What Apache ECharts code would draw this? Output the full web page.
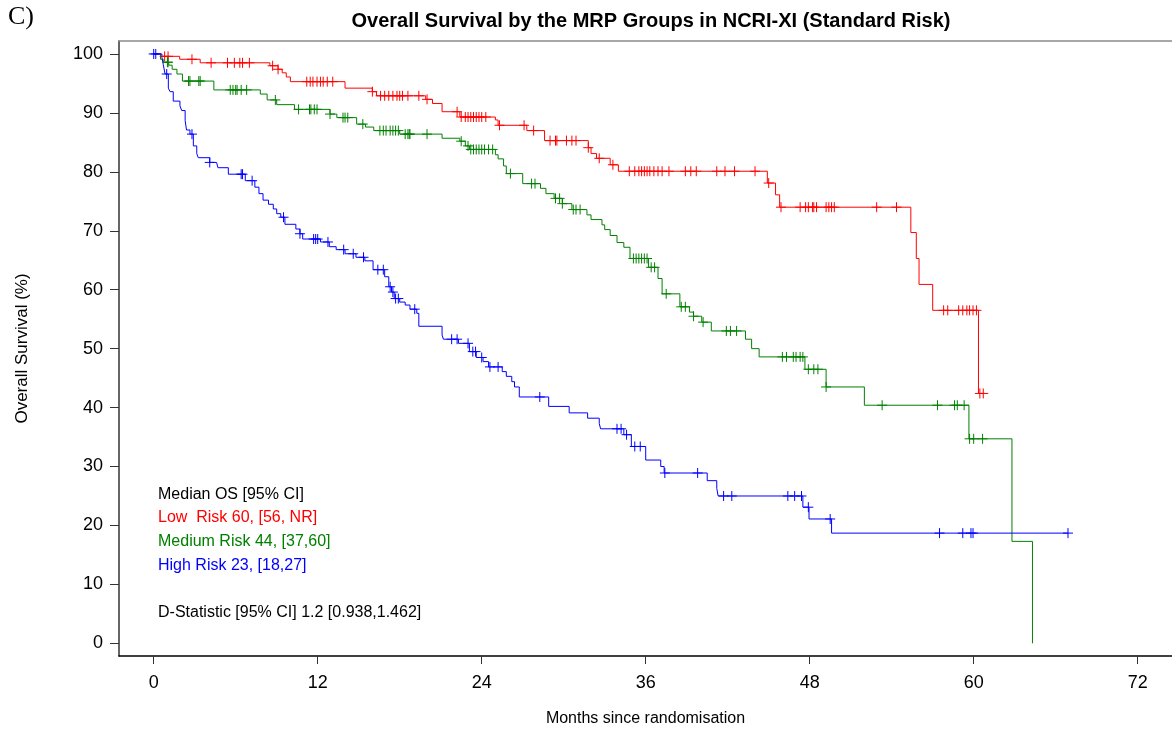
<!DOCTYPE html>
<html>
<head>
<meta charset="utf-8">
<script src="https://cdn.jsdelivr.net/npm/echarts@6/dist/echarts.min.js"></script>
<style>
html,body{margin:0;padding:0;background:#fff;}
#chart{width:1172px;height:729px;}
</style>
</head>
<body>
<div id="chart"></div>
<script>
// ---- Data (months since randomisation, overall survival %) ----
const xTicks = [0, 12, 24, 36, 48, 60, 72];
const yTicks = [0, 10, 20, 30, 40, 50, 60, 70, 80, 90, 100];

// Low risk (red): event times and survival after each event
const lowT = [0.5, 1.9, 3.4, 8.5, 9.1, 9.4, 9.7, 10.0, 14.0, 16.0, 16.3, 19.9, 20.4, 21.1, 22.4, 25.0, 25.2, 27.3, 28.6, 31.8, 32.0, 32.4, 33.4, 34.0, 44.9, 45.5, 45.8, 55.4, 55.8, 56.0, 57.0, 60.35];
const lowS = [99.6, 99.1, 98.5, 98.0, 97.4, 96.8, 96.1, 95.3, 94.2, 93.6, 92.9, 92.3, 91.6, 90.2, 89.3, 88.8, 87.9, 87.0, 85.3, 84.1, 83.1, 82.3, 81.2, 80.1, 78.1, 76.1, 74.0, 69.7, 65.3, 60.9, 56.5, 42.4];
const lowEnd = 60.7;
const lowCens = [0.8, 1.05, 2.8, 4.2, 5.4, 5.9, 6.3, 6.5, 7.0, 8.7, 9.1, 11.2, 11.45, 11.65, 11.95, 12.2, 12.4, 12.7, 13.1, 16.0, 16.6, 16.9, 17.2, 17.5, 17.8, 18.0, 18.2, 18.6, 19.4, 20.0, 22.2, 22.5, 22.8, 23.0, 23.2, 23.4, 23.6, 23.8, 24.0, 24.3, 25.3, 27.1, 27.8, 29.0, 29.4, 29.5, 30.2, 30.6, 30.9, 31.8, 32.6, 33.6, 34.8, 35.2, 35.5, 35.7, 35.9, 36.1, 36.3, 36.6, 36.9, 37.2, 37.7, 38.9, 39.3, 39.7, 41.2, 41.8, 42.5, 44.0, 45.0, 45.9, 47.3, 47.7, 47.9, 48.2, 48.3, 48.5, 49.2, 49.4, 49.6, 49.8, 52.9, 54.35, 57.8, 58.1, 58.9, 59.2, 59.5, 59.7, 59.95, 60.2, 60.45, 60.7];

// Medium risk (green)
const medT = [0.5, 0.7, 1.1, 1.35, 1.7, 2.1, 4.4, 7.8, 8.3, 9.0, 10.3, 12.9, 13.4, 14.85, 15.5, 16.1, 18.0, 21.1, 22.4, 22.8, 23.1, 25.0, 25.2, 25.6, 25.8, 27.0, 28.3, 28.7, 29.3, 29.9, 30.6, 31.7, 32.0, 32.8, 33.0, 33.4, 33.9, 34.4, 34.85, 36.2, 36.9, 37.2, 38.5, 39.2, 39.5, 40.1, 40.8, 43.3, 43.75, 44.3, 47.65, 49.2, 52.0, 59.65, 62.8, 64.3];
const medS = [99.1, 98.6, 98.1, 97.4, 96.6, 95.4, 93.9, 93.2, 92.2, 91.4, 90.6, 89.8, 89.2, 88.1, 87.6, 87.0, 86.4, 85.7, 85.2, 84.4, 83.8, 82.9, 82.2, 81.0, 79.7, 78.0, 77.2, 76.3, 75.5, 74.6, 73.6, 72.7, 71.9, 71.0, 70.2, 69.2, 68.0, 67.2, 65.3, 63.8, 61.9, 59.3, 57.1, 56.2, 55.5, 54.5, 53.0, 51.6, 50.0, 48.6, 46.5, 43.5, 40.4, 34.7, 17.3, 0];
const medEnd = 64.3;
const medCens = [1.0, 1.05, 2.55, 2.65, 3.3, 3.4, 5.6, 5.8, 6.0, 6.1, 6.4, 6.8, 8.9, 10.6, 11.4, 11.5, 11.75, 11.95, 12.9, 13.85, 14.0, 14.2, 15.3, 16.55, 16.8, 17.0, 17.3, 17.5, 17.7, 17.9, 18.4, 18.6, 18.7, 18.75, 20.0, 22.5, 23.0, 23.2, 23.4, 23.6, 23.8, 24.0, 24.2, 24.5, 24.8, 26.1, 27.65, 27.9, 29.4, 29.7, 29.9, 30.7, 30.9, 31.2, 35.1, 35.3, 35.5, 35.7, 35.9, 36.1, 36.4, 36.65, 37.5, 38.6, 38.9, 39.5, 40.2, 41.9, 42.2, 42.65, 46.0, 46.3, 46.8, 47.0, 47.3, 47.5, 47.9, 48.3, 48.6, 49.2, 53.3, 57.35, 58.6, 58.8, 59.3, 59.7, 60.0, 60.65];

// High risk (blue)
const highT = [0.6, 0.7, 0.83, 1.07, 1.2, 1.43, 1.92, 2.05, 2.3, 2.4, 2.65, 2.9, 3.15, 3.26, 4.1, 4.6, 4.7, 5.46, 6.7, 7.4, 7.7, 8.0, 8.4, 8.75, 9.0, 9.3, 9.6, 10.4, 10.7, 10.9, 12.2, 12.85, 13.35, 14.0, 14.8, 15.45, 16.05, 16.9, 17.2, 17.4, 17.6, 18.0, 18.4, 18.75, 19.25, 19.4, 21.1, 21.2, 22.3, 23.1, 23.6, 24.1, 24.5, 25.5, 25.8, 26.2, 26.4, 26.75, 28.9, 30.4, 31.75, 32.6, 32.7, 34.4, 34.95, 36.0, 37.1, 37.35, 40.5, 41.2, 41.3, 47.5, 47.95, 49.6];
const highS = [99.4, 98.2, 96.6, 94.2, 93.6, 92.0, 91.2, 90.4, 88.7, 87.1, 86.4, 84.4, 83.1, 82.4, 81.6, 81.3, 80.7, 79.6, 78.5, 77.4, 76.3, 75.2, 74.5, 73.7, 72.9, 72.3, 71.1, 70.3, 69.5, 68.6, 68.1, 67.3, 66.8, 66.1, 65.5, 64.9, 63.4, 62.2, 60.5, 59.6, 58.5, 57.9, 57.4, 56.7, 56.0, 53.8, 52.3, 51.6, 50.9, 49.5, 48.5, 47.8, 46.9, 46.1, 45.3, 44.4, 43.5, 41.8, 40.2, 39.1, 38.2, 37.3, 36.4, 35.4, 33.4, 31.1, 30.0, 28.9, 27.6, 26.3, 25.0, 23.1, 21.1, 18.7];
const highEnd = 66.9;
const highCens = [0.0, 0.15, 0.95, 2.8, 4.1, 6.4, 6.5, 7.2, 9.5, 10.7, 11.7, 11.85, 12.0, 12.75, 13.9, 14.6, 15.35, 16.4, 16.8, 17.3, 17.5, 17.7, 17.9, 19.1, 21.8, 22.2, 23.0, 23.35, 23.55, 24.0, 24.6, 25.2, 28.25, 33.9, 34.2, 34.6, 35.2, 35.6, 37.4, 39.8, 41.7, 42.3, 46.4, 46.9, 47.4, 47.9, 49.5, 57.5, 59.2, 59.8, 59.95, 66.9];

const RED = '#ff0000', GREEN = '#008000', BLUE = '#0000ff';
const FONT = '"Liberation Sans", Arial, sans-serif';

function stepData(T, S, end) {
  const d = [[0, 100]];
  for (let i = 0; i < T.length; i++) d.push([T[i], S[i]]);
  if (end > T[T.length - 1]) d.push([end, S[S.length - 1]]);
  return d;
}
function survAt(T, S, t) {
  let s = 100;
  for (let i = 0; i < T.length; i++) { if (T[i] <= t) s = S[i]; else break; }
  return s;
}
function censData(T, S, C) {
  return C.map(t => [t, survAt(T, S, t)]);
}

const PLUS = 'path://M5,0L5,10M0,5L10,5';

function lineSeries(name, data, color) {
  return {
    name: name, type: 'line', step: 'end', data: data, symbol: 'none',
    lineStyle: { color: color, width: 1 }, itemStyle: { color: color },
    animation: false, z: 2
  };
}
function censSeries(name, data, color) {
  return {
    name: name + ' censored', type: 'scatter', data: data, symbol: PLUS, symbolSize: 10,
    itemStyle: { color: 'transparent', borderColor: color, borderWidth: 1, opacity: 1 },
    animation: false, z: 3
  };
}

const X_MIN = -2.54, X_MAX = 74.51;

const chart = echarts.init(document.getElementById('chart'), null, { renderer: 'canvas' });
chart.setOption({
  backgroundColor: '#ffffff',
  animation: false,
  title: {
    text: 'Overall Survival by the MRP Groups in NCRI-XI (Standard Risk)',
    left: 646, top: 6, textAlign: 'center',
    textStyle: { fontFamily: FONT, fontSize: 20, fontWeight: 'bold', color: '#000' }
  },
  grid: { left: 119, right: 0, top: 41, bottom: 73, show: false, outerBoundsMode: 'none', containLabel: false },
  xAxis: [{
    type: 'value', min: X_MIN, max: X_MAX,
    name: 'Months since randomisation', nameLocation: 'middle', nameGap: 55,
    nameTextStyle: { fontFamily: FONT, fontSize: 16, color: '#000' },
    axisLine: { show: true, onZero: false, lineStyle: { color: '#000', width: 1.5 } },
    axisTick: { show: true, inside: false, length: 8, customValues: xTicks, lineStyle: { color: '#333' } },
    axisLabel: { customValues: xTicks, margin: 18, fontFamily: FONT, fontSize: 18, color: '#000' },
    splitLine: { show: false }
  }, {
    type: 'value', position: 'top', min: X_MIN, max: X_MAX,
    axisLine: { show: true, onZero: false, lineStyle: { color: '#8a8a8a', width: 1.5 } },
    axisTick: { show: false }, axisLabel: { show: false }, splitLine: { show: false }
  }],
  yAxis: {
    type: 'value', min: -2.15, max: 102.2,
    name: 'Overall Survival (%)', nameLocation: 'middle', nameGap: 88, nameRotate: 90,
    nameTextStyle: { fontFamily: FONT, fontSize: 17, color: '#000' },
    axisLine: { show: true, onZero: false, lineStyle: { color: '#333', width: 1.5 } },
    axisTick: { show: true, inside: false, length: 9, customValues: yTicks, lineStyle: { color: '#333' } },
    axisLabel: { customValues: yTicks, margin: 16, fontFamily: FONT, fontSize: 18, color: '#000' },
    splitLine: { show: false }
  },
  series: [
    lineSeries('Low Risk', stepData(lowT, lowS, lowEnd), RED),
    lineSeries('Medium Risk', stepData(medT, medS, medEnd), GREEN),
    lineSeries('High Risk', stepData(highT, highS, highEnd), BLUE),
    censSeries('Low Risk', censData(lowT, lowS, lowCens), RED),
    censSeries('Medium Risk', censData(medT, medS, medCens), GREEN),
    censSeries('High Risk', censData(highT, highS, highCens), BLUE)
  ],
  graphic: [
    { type: 'text', left: 8, top: 4, style: { text: 'C)', font: '26px "Liberation Serif", "Times New Roman", serif', fill: '#000' } },
    { type: 'text', left: 158, top: 487, style: { text: 'Median OS [95% CI]', font: '16px ' + FONT, fill: '#000' } },
    { type: 'text', left: 158, top: 510, style: { text: 'Low  Risk 60, [56, NR]', font: '16px ' + FONT, fill: RED } },
    { type: 'text', left: 158, top: 534, style: { text: 'Medium Risk 44, [37,60]', font: '16px ' + FONT, fill: GREEN } },
    { type: 'text', left: 158, top: 558, style: { text: 'High Risk 23, [18,27]', font: '16px ' + FONT, fill: BLUE } },
    { type: 'text', left: 158, top: 605, style: { text: 'D-Statistic [95% CI] 1.2 [0.938,1.462]', font: '16px ' + FONT, fill: '#000' } }
  ]
});
</script>
</body>
</html>
